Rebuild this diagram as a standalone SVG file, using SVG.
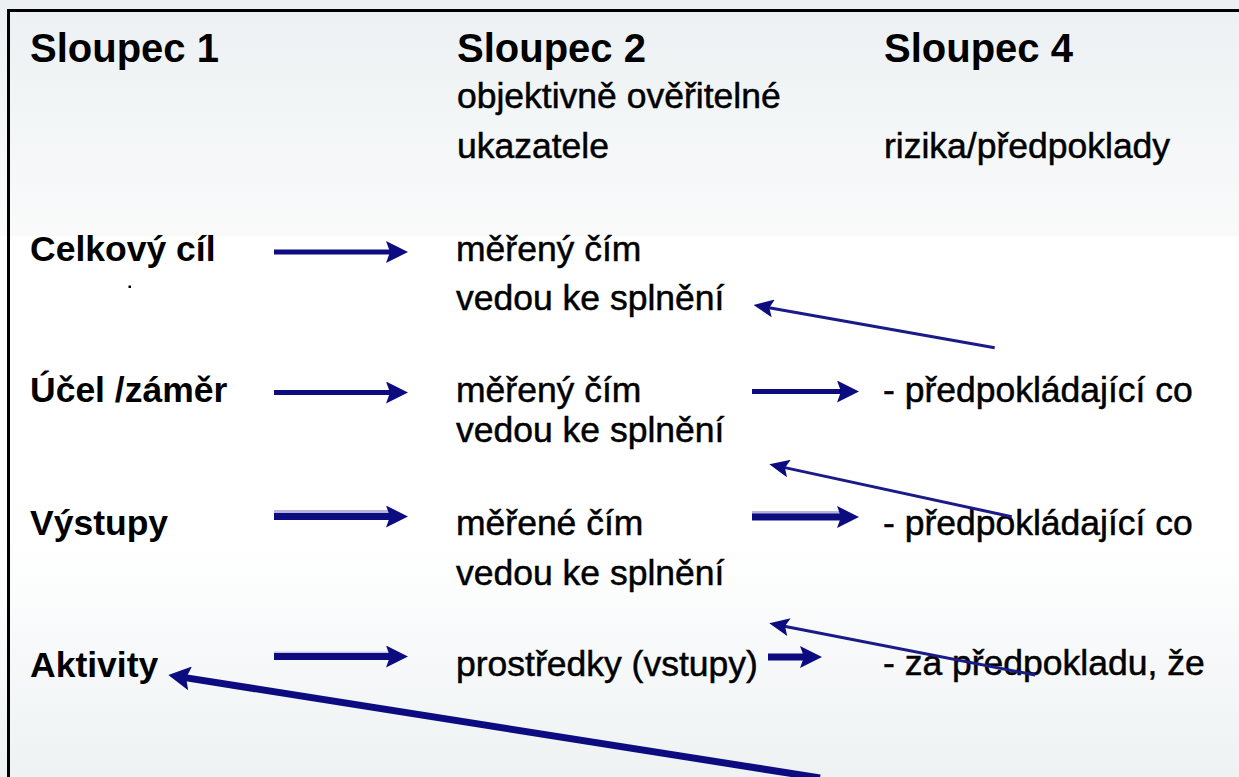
<svg xmlns="http://www.w3.org/2000/svg" width="1239" height="777" viewBox="0 0 1239 777">
  <defs>
    <linearGradient id="bg" gradientUnits="userSpaceOnUse" x1="0" y1="0" x2="0" y2="777">
      <stop offset="0" stop-color="#ecf0f2"/>
      <stop offset="0.16" stop-color="#f3f6f7"/>
      <stop offset="0.303" stop-color="#fafafa"/>
      <stop offset="0.304" stop-color="#ffffff"/>
      <stop offset="0.70" stop-color="#ffffff"/>
      <stop offset="1" stop-color="#eef2f3"/>
    </linearGradient>
    <marker id="ah" viewBox="0 0 22 22" markerWidth="22" markerHeight="22" refX="10" refY="11" markerUnits="userSpaceOnUse" orient="auto">
      <path d="M0,0 L22,11 L0,22 L4,11 z" fill="#0c0c80"/>
    </marker>
    <marker id="ahs" viewBox="0 0 20 18" markerWidth="20" markerHeight="18" refX="10" refY="9" markerUnits="userSpaceOnUse" orient="auto">
      <path d="M0,0 L20,9 L0,18 L4,9 z" fill="#0c0c80"/>
    </marker>
    <marker id="ahb" viewBox="0 0 22 24" markerWidth="22" markerHeight="24" refX="10" refY="12" markerUnits="userSpaceOnUse" orient="auto">
      <path d="M0,0 L22,12 L0,24 L4,12 z" fill="#0c0c80"/>
    </marker>
  </defs>
  <style>
    text { font-family: "Liberation Sans", Arial, sans-serif; fill: #000; }
    .hd { font-size: 40px; font-weight: bold; }
    .lb { font-size: 35.5px; font-weight: bold; }
    .rg { font-size: 35.5px; font-weight: normal; stroke: #000; stroke-width: 0.5px; }
    .sh { stroke: #0c0c80; stroke-width: 5; fill: none; marker-end: url(#ah); }
    .shw { stroke: #0c0c80; stroke-width: 7; fill: none; marker-end: url(#ah); }
    .lav { stroke: #b4b4dc; stroke-width: 3; fill: none; }
    .lav2 { stroke: #c8c8e6; stroke-width: 1.5; fill: none; }
    .thin { stroke: #1a1a88; stroke-width: 3; fill: none; marker-end: url(#ahs); }
    .thick { stroke: #0c0c80; stroke-width: 7; fill: none; marker-end: url(#ahb); }
  </style>

  <rect x="0" y="0" width="1239" height="777" fill="url(#bg)"/>
  <path d="M8.5,777 L8.5,10.5 L1239,10.5" fill="none" stroke="#000" stroke-width="3"/>

  <g id="headers">
    <text class="hd" x="30" y="62">Sloupec 1</text>
    <text class="hd" x="457" y="62">Sloupec 2</text>
    <text class="rg" x="457" y="108">objektivně ověřitelné</text>
    <text class="rg" x="457" y="158">ukazatele</text>
    <text class="hd" x="884" y="62">Sloupec 4</text>
    <text class="rg" x="884" y="158">rizika/předpoklady</text>
  </g>

  <g id="node-celkovy-cil">
    <text class="lb" x="30" y="261">Celkový cíl</text>
    <rect x="128.5" y="285.5" width="2.5" height="2.5" fill="#000"/>
  </g>
  <g id="node-ucel">
    <text class="lb" x="30" y="402">Účel /záměr</text>
  </g>
  <g id="node-vystupy">
    <text class="lb" x="30" y="535">Výstupy</text>
  </g>
  <g id="node-aktivity">
    <text class="lb" x="30" y="677">Aktivity</text>
  </g>

  <g id="node-merene-1">
    <text class="rg" x="456" y="261">měřený čím</text>
    <text class="rg" x="456" y="310">vedou ke splnění</text>
  </g>
  <g id="node-merene-2">
    <text class="rg" x="456" y="402">měřený čím</text>
    <text class="rg" x="456" y="442">vedou ke splnění</text>
  </g>
  <g id="node-merene-3">
    <text class="rg" x="456" y="535">měřené čím</text>
    <text class="rg" x="456" y="585">vedou ke splnění</text>
  </g>
  <g id="node-prostredky">
    <text class="rg" x="456" y="676">prostředky (vstupy)</text>
  </g>

  <g id="node-predpoklad-1">
    <text class="rg" x="883" y="402">- předpokládající co</text>
  </g>
  <g id="node-predpoklad-2">
    <text class="rg" x="883" y="535">- předpokládající co</text>
  </g>
  <g id="node-predpoklad-3">
    <text class="rg" x="883" y="675">- za předpokladu, že</text>
  </g>

  <g id="connectors">
    <line class="sh" x1="274" y1="252" x2="396" y2="252"/>
    <line class="sh" x1="274" y1="392.5" x2="396" y2="392.5"/>
    <line class="lav" x1="274" y1="511.5" x2="390" y2="511.5"/>
    <line class="shw" x1="274" y1="516.5" x2="396" y2="516.5"/>
    <line class="lav2" x1="274" y1="652.3" x2="390" y2="652.3"/>
    <line class="shw" x1="274" y1="656.5" x2="396" y2="656.5"/>

    <line class="sh" x1="752" y1="391.5" x2="847" y2="391.5"/>
    <line class="lav" x1="752" y1="512.5" x2="840" y2="512.5"/>
    <line class="shw" x1="752" y1="517" x2="847" y2="517"/>
    <line class="shw" x1="768" y1="657" x2="810" y2="657"/>

    <line class="thin" x1="994.7" y1="347.7" x2="763.4" y2="306.7"/>
    <line class="thin" x1="1011.7" y1="516.7" x2="779.1" y2="466.4"/>
    <line class="thin" x1="1035" y1="675" x2="779.1" y2="625.2"/>
    <line class="thick" x1="820" y1="778" x2="180.2" y2="676.9"/>
  </g>
</svg>
